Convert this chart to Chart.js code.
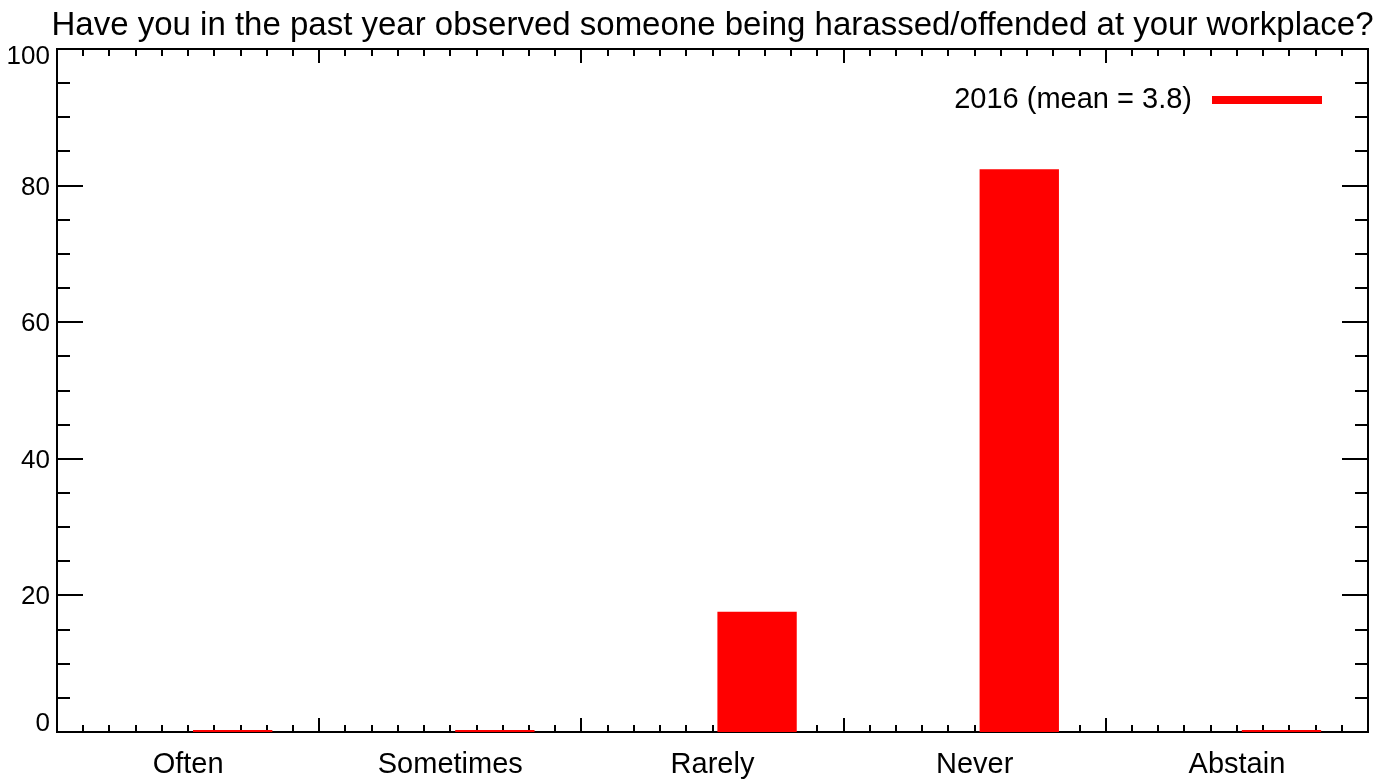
<!DOCTYPE html>
<html>
<head>
<meta charset="utf-8">
<script src="https://cdn.jsdelivr.net/npm/chart.js@4"></script>
<style>
  html, body { margin: 0; padding: 0; background: #fff; }
  #wrap { width: 1392px; height: 781px; position: relative; }
</style>
</head>
<body>
<div id="wrap"><canvas id="chart"></canvas></div>
<script>
// Data
const categories = ['Often', 'Sometimes', 'Rarely', 'Never', 'Abstain']
const values2016 = [0, 0, 17.6, 82.4, 0]
const yTicks = [0, 20, 40, 60, 80, 100]
const yMinorStep = 5
const xMinorPerCategory = 10
const titleText = 'Have you in the past year observed someone being harassed/offended at your workplace?'
const legendText = '2016 (mean = 3.8)'

const FONT = '"Liberation Sans", Arial, Helvetica, sans-serif'

// Frame, ticks, labels, title and legend drawn IDL-style
const framePlugin = {
  id: 'frame',
  beforeDatasetsDraw(chart) {
    const { ctx, chartArea: a, scales: { x, y } } = chart
    ctx.save()
    ctx.strokeStyle = '#000'
    ctx.lineWidth = 2
    ctx.strokeRect(a.left, a.top, a.right - a.left, a.bottom - a.top)

    // y ticks (left and right)
    for (let v = y.min; v <= y.max; v += yMinorStep) {
      const py = Math.round(y.getPixelForValue(v))
      const len = yTicks.includes(v) ? 26 : 13
      ctx.beginPath()
      ctx.moveTo(a.left, py); ctx.lineTo(a.left + len, py)
      ctx.moveTo(a.right, py); ctx.lineTo(a.right - len, py)
      ctx.stroke()
    }

    // x ticks (bottom and top)
    const n = categories.length
    for (let i = 0; i < n; i++) {
      for (let k = 0; k < xMinorPerCategory; k++) {
        if (i === 0 && k === 0) continue
        const px = Math.round(x.getPixelForValue(i - 0.5 + k / xMinorPerCategory))
        const len = k === 0 ? 14 : 7
        ctx.beginPath()
        ctx.moveTo(px, a.bottom); ctx.lineTo(px, a.bottom - len)
        ctx.moveTo(px, a.top); ctx.lineTo(px, a.top + len)
        ctx.stroke()
      }
    }

    // y labels
    ctx.fillStyle = '#000'
    ctx.font = '26px ' + FONT
    ctx.textAlign = 'right'
    ctx.textBaseline = 'alphabetic'
    yTicks.forEach(v => {
      let py = y.getPixelForValue(v) + 9
      py = Math.min(Math.max(py, a.top + 15), a.bottom - 1)
      ctx.fillText(String(v), a.left - 7, py)
    })

    // x labels
    ctx.font = '29px ' + FONT
    ctx.textAlign = 'center'
    categories.forEach((c, i) => {
      ctx.fillText(c, x.getPixelForValue(i), a.bottom + 41)
    })

    // title
    ctx.font = '33px ' + FONT
    ctx.fillText(titleText, (a.left + a.right) / 2, 35)

    // legend
    ctx.font = '29px ' + FONT
    ctx.textAlign = 'right'
    ctx.fillText(legendText, a.right - 176, 108)
    ctx.fillStyle = '#ff0000'
    ctx.fillRect(a.right - 156, 96, 110, 8)
    ctx.restore()
  }
}

new Chart(document.getElementById('chart'), {
  type: 'bar',
  data: {
    labels: categories,
    datasets: [{
      label: 'spacer',
      data: categories.map(() => null),
      backgroundColor: 'rgba(0,0,0,0)'
    }, {
      label: legendText,
      data: values2016,
      backgroundColor: '#ff0000',
      borderWidth: 0,
      minBarLength: 2
    }]
  },
  options: {
    responsive: true,
    maintainAspectRatio: false,
    animation: false,
    datasets: {
      bar: {
        categoryPercentage: 0.68,
        barPercentage: 0.89
      }
    },
    layout: {
      padding: { left: 57, right: 24, top: 49, bottom: 49 }
    },
    plugins: {
      legend: { display: false },
      title: { display: false },
      tooltip: { enabled: false }
    },
    scales: {
      x: { display: false },
      y: { display: false, min: 0, max: 100 }
    }
  },
  plugins: [framePlugin]
})
</script>
</body>
</html>
